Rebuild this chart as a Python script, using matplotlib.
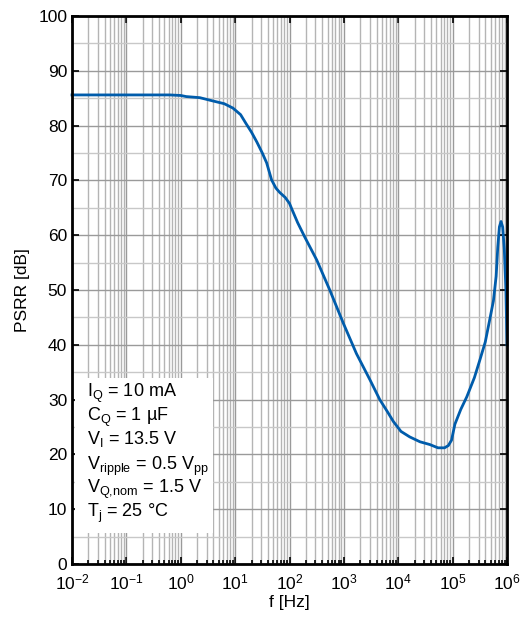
import matplotlib
matplotlib.use("Agg")
import matplotlib.pyplot as plt
import matplotlib.ticker as mticker
from matplotlib.patches import Rectangle

plt.rcParams['font.family'] = ['Liberation Sans', 'DejaVu Sans']
plt.rcParams['mathtext.default'] = 'regular'

# Data
freq_hz = [0.01, 0.1, 0.63, 1.0, 1.26, 2.24, 3.9, 6.3, 9.1, 12.6, 15.8, 20.0, 25.1,
           31.6, 38.0, 46.8, 56.2, 66.1, 83.2, 100.0, 110.0, 141.0, 190.0, 316.0,
           550.0, 980.0, 1700.0, 3020.0, 4570.0, 6310.0, 8130.0, 11200.0, 16200.0,
           25100.0, 38000.0, 53700.0, 70800.0, 83200.0, 95500.0, 110000.0, 141000.0,
           182000.0, 251000.0, 316000.0, 398000.0, 479000.0, 562000.0, 631000.0,
           676000.0, 724000.0, 776000.0, 832000.0, 891000.0, 955000.0, 1000000.0]
psrr_db = [85.6, 85.6, 85.6, 85.5, 85.3, 85.1, 84.5, 84.0, 83.2, 82.0, 80.4, 78.8, 77.0,
           75.0, 73.2, 70.1, 68.6, 67.8, 66.9, 65.8, 64.8, 62.3, 59.7, 55.5,
           50.0, 43.9, 38.4, 33.6, 30.0, 27.8, 26.0, 24.2, 23.2,
           22.3, 21.8, 21.2, 21.2, 21.6, 22.6, 25.5, 28.2,
           30.5, 34.0, 37.2, 40.5, 44.5, 48.0, 52.5,
           57.8, 61.5, 62.5, 61.5, 57.5, 50.0, 40.0]

info_lines = [r'$I_Q$ = 10 mA', r'$C_Q$ = 1 µF', r'$V_I$ = 13.5 V',
              r'$V_{ripple}$ = 0.5 $V_{pp}$', r'$V_{Q{,}nom}$ = 1.5 V', r'$T_j$ = 25 °C']

x_label = 'f [Hz]'
y_label = 'PSRR [dB]'

fig = plt.figure(figsize=(5.26, 6.21), dpi=100)
ax = fig.add_axes([0.1369, 0.0918, 0.8270, 0.8824])

ax.plot(freq_hz, psrr_db, color='#005cab', lw=2.0, zorder=3, solid_joinstyle='round',
        clip_on=False)
ax.set_xscale('log')
ax.set_xlim(1e-2, 1e6)
ax.set_ylim(0, 100)

ax.xaxis.set_major_locator(mticker.LogLocator(base=10, numticks=20))
ax.xaxis.set_minor_locator(mticker.LogLocator(base=10, subs=range(2, 10), numticks=100))
ax.xaxis.set_minor_formatter(mticker.NullFormatter())
ax.yaxis.set_major_locator(mticker.MultipleLocator(10))
ax.yaxis.set_minor_locator(mticker.MultipleLocator(5))

ax.set_axisbelow(True)
ax.grid(True, which='major', color='#9a9a9a', lw=1.0)
ax.grid(True, which='minor', axis='x', color='#b4b4b4', lw=1.0)
ax.grid(True, which='minor', axis='y', color='#c8c8c8', lw=1.0)

ax.tick_params(which='both', direction='in', top=True, right=True, colors='black',
               labelsize=12.5, width=1.2)
ax.tick_params(which='major', length=5)
ax.tick_params(which='minor', length=3)
ax.tick_params(axis='x', which='minor', top=False)
ax.tick_params(axis='y', which='minor', length=0)
ax.tick_params(axis='x', pad=6)
for s in ax.spines.values():
    s.set_linewidth(2.0)
    s.set_zorder(5)

ax.set_xlabel(x_label, fontsize=12.5, labelpad=2)
ax.set_ylabel(y_label, fontsize=12.5, labelpad=6)

# white info box
ax.add_patch(Rectangle((0.007, 0.057), 0.317, 0.282, transform=ax.transAxes,
                       facecolor='white', edgecolor='none', zorder=1))
baselines_px = [397, 421, 444, 470, 493, 517]
for line, py in zip(info_lines, baselines_px):
    ax.text(0.0345, (564 - py) / 548, line, transform=ax.transAxes, fontsize=13,
            va='baseline', ha='left', zorder=4)

fig.savefig('out.png', dpi=100)
